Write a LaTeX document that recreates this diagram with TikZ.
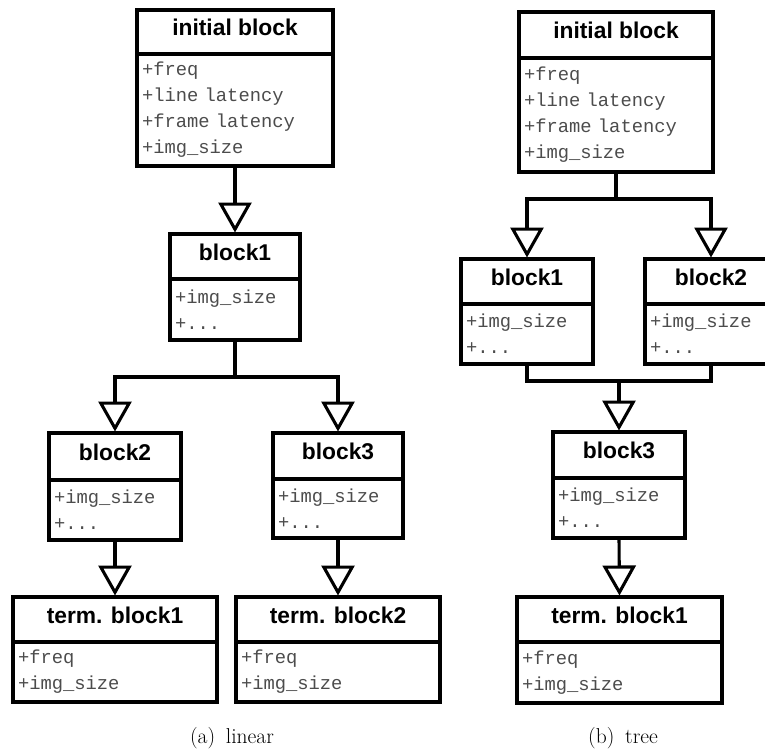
\documentclass[tikz,border=0pt]{standalone}
\usepackage{fontspec}
\newfontfamily\titlefamily{Liberation Sans}
\newfontfamily\attrfamily{Liberation Mono}
\usetikzlibrary{arrows.meta}

\tikzset{
  x=1pt, y=-1pt,
  hdr/.style={draw, line width=3.2pt, inner sep=0pt, outer sep=0pt,
    text height=16pt, text depth=8.8pt,
    font=\titlefamily\bfseries\fontsize{22.8}{27}\selectfont},
  body/.style={draw, line width=3.2pt, outer sep=0pt, inner xsep=5pt, inner ysep=0pt,
    align=left, text=black!70,
    font=\attrfamily\fontsize{18.8}{26}\selectfont},
  conn/.style={line width=3.1pt},
  gen/.style={conn, shorten >=1.5pt,
    -{Triangle[open, width=33pt, length=30pt, line width=3.1pt]}},
  subcap/.style={font=\fontsize{21.5}{25}\selectfont},
}

% class box: name, left, right, top, divider, bottom, title, attributes
\newcommand\classbox[8]{%
  \node[hdr, minimum width={(#3-#2)*1pt}, minimum height={(#5-#4)*1pt}]
    (#1) at ({(#2+#3)/2},{(#4+#5)/2}) {#7};
  \node[body, text width={(#3-#2-10)*1pt}, minimum height={(#6-#5)*1pt}]
    (#1-b) at ({(#2+#3)/2},{(#5+#6)/2}) {#8};
}

\begin{document}
\begin{tikzpicture}
\useasboundingbox (0,0) rectangle (765,755);
\clip (0,0) rectangle (765,755);

% ---------- (a) linear ----------
\classbox{ibA}{137}{333}{10}{54}{166}{initial block}
  {+freq\\+line latency\\+frame latency\\+img\_size}
\classbox{bA1}{170}{300}{234}{279}{340}{block1}{+img\_size\\+...}
\classbox{bA2}{49}{181}{433}{480}{540}{block2}{+img\_size\\+...}
\classbox{bA3}{273}{403}{433}{479}{538}{block3}{+img\_size\\+...}
\classbox{tA1}{13}{217}{597}{642}{702}{term. block1}{+freq\\+img\_size}
\classbox{tA2}{236}{440}{597}{642}{702}{term. block2}{+freq\\+img\_size}

\draw[gen] (ibA-b.south) -- (bA1.north);
\draw[gen] (bA1-b.south) -- ++(0,37) -| (bA2.north);
\draw[gen] (bA1-b.south) -- ++(0,37) -| (bA3.north);
\draw[gen] (bA2-b.south) -- (tA1.north);
\draw[gen] (bA3-b.south) -- (tA2.north);

\node[subcap] (capA) at (232,738.5) {(a)\enspace linear};

% ---------- (b) tree ----------
\classbox{ibB}{519}{713}{12}{58}{172}{initial block}
  {+freq\\+line latency\\+frame latency\\+img\_size}
\classbox{bB1}{461}{593}{259}{304}{364}{block1}{+img\_size\\+...}
\classbox{bB2}{645}{777}{259}{304}{364}{block2}{+img\_size\\+...}
\classbox{bB3}{553}{685}{432}{478}{538}{block3}{+img\_size\\+...}
\classbox{tB1}{517}{722}{597}{642}{703}{term. block1}{+freq\\+img\_size}

\draw[gen] (ibB-b.south) -- ++(0,27) -| (bB1.north);
\draw[gen] (ibB-b.south) -- ++(0,27) -| (bB2.north);
\coordinate (joinB) at (619,381);
\draw[conn] (bB1-b.south) |- (joinB) -| (bB2-b.south);
\draw[gen] (joinB) -- (bB3.north);
\draw[gen] (bB3-b.south) -- (tB1.north);

\node[subcap] (capB) at (623,738.5) {(b)\enspace tree};
\end{tikzpicture}
\end{document}
